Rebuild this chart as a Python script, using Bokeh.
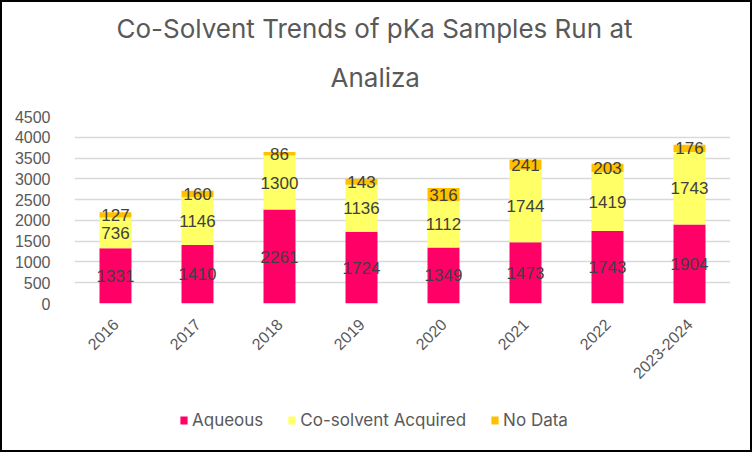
import math
from bokeh.plotting import figure
from bokeh.layouts import column
from bokeh.models import (ColumnDataSource, FactorRange, Range1d, FixedTicker, Legend,
                          LegendItem, Title)
from bokeh.core.properties import value
from bokeh.embed import file_html
from bokeh.resources import INLINE

categories = ["2016", "2017", "2018", "2019", "2020", "2021", "2022", "2023-2024"]
aqueous = [1331, 1410, 2261, 1724, 1349, 1473, 1743, 1904]
cosolvent = [736, 1146, 1300, 1136, 1112, 1744, 1419, 1743]
nodata = [127, 160, 86, 143, 316, 241, 203, 176]
series_names = ["Aqueous", "Co-solvent Acquired", "No Data"]
series_keys = ["aqueous", "cosolvent", "nodata"]
colors = ["#FF0066", "#FFFF66", "#FFC000"]
y_ticks = [0, 500, 1000, 1500, 2000, 2500, 3000, 3500, 4000, 4500]
title_lines = ["Co-Solvent Trends of pKa Samples Run at", "Analiza"]

data = dict(cat=categories, aqueous=aqueous, cosolvent=cosolvent, nodata=nodata)
source = ColumnDataSource(data)

W, H1, H2 = 752, 400, 52
p = figure(x_range=FactorRange(factors=categories), y_range=Range1d(0, 4500),
           width=W, height=H1, output_backend="svg", toolbar_location=None,
           min_border_left=72, min_border_right=24, min_border_top=114, min_border_bottom=99)

for line, so, off in zip(reversed(title_lines), [48, -17], [256, 42]):
    t = Title(text=line, align="left", offset=off, text_font="Inter", text_font_size="26px",
              text_font_style="normal", text_color="#595959", standoff=so)
    p.add_layout(t, "above")

renderers = p.vbar_stack(series_keys, x="cat", width=0.39, color=colors,
                         line_color=None, source=source)

bottoms = [0] * len(categories)
lx, ly, lt = [], [], []
for key in series_keys:
    vals = data[key]
    for i, c in enumerate(categories):
        lx.append(c)
        ly.append(bottoms[i] + vals[i] / 2)
        lt.append(str(vals[i]))
        bottoms[i] += vals[i]
lsrc = ColumnDataSource(dict(x=lx, y=ly, t=lt))
p.text(x="x", y="y", text="t", source=lsrc, text_align="center", text_baseline="middle",
       text_font=value("Liberation Sans"), text_font_size="17px", text_color="#404040")

p.yaxis.ticker = FixedTicker(ticks=y_ticks)
for ax in (p.xaxis, p.yaxis):
    ax.axis_line_color = None
    ax.major_tick_line_color = None
    ax.minor_tick_line_color = None
    ax.major_label_text_font = "Liberation Sans"
    ax.major_label_text_font_size = "16px"
    ax.major_label_text_color = "#595959"
p.yaxis.major_label_standoff = 18
p.xaxis.major_label_orientation = math.pi / 4
p.xaxis.major_label_standoff = 12

p.xgrid.grid_line_color = None
p.ygrid.grid_line_color = "#D9D9D9"
p.ygrid.grid_line_width = 1.5
p.outline_line_color = None
p.styles = {"border-top": "2px solid black", "border-left": "2px solid black",
            "border-right": "2px solid black", "box-sizing": "border-box"}

# legend strip
q = figure(width=W, height=H2, x_range=Range1d(0, 1), y_range=Range1d(0, 1),
           output_backend="svg", toolbar_location=None, x_axis_type=None, y_axis_type=None,
           min_border=0)
q.grid.grid_line_color = None
q.outline_line_color = None
leg_r = []
nan = float("nan")
for c in colors:
    leg_r.append(q.vbar(x=[nan], top=[nan], width=0.1, fill_color=c, line_color=None))
items = [LegendItem(label=n, renderers=[r]) for n, r in zip(series_names, leg_r)]
legend = Legend(items=items, orientation="horizontal", location=(105, 22),
                label_text_font="Inter", label_text_font_size="17px",
                label_text_color="#595959", glyph_width=9, glyph_height=10,
                spacing=24, label_standoff=4, border_line_color=None,
                background_fill_alpha=0, margin=0, padding=4)
q.add_layout(legend)
q.styles = {"border-bottom": "2px solid black", "border-left": "2px solid black",
            "border-right": "2px solid black", "box-sizing": "border-box"}

layout = column(p, q, spacing=0)
open("out.html", "w").write(file_html(layout, INLINE))
